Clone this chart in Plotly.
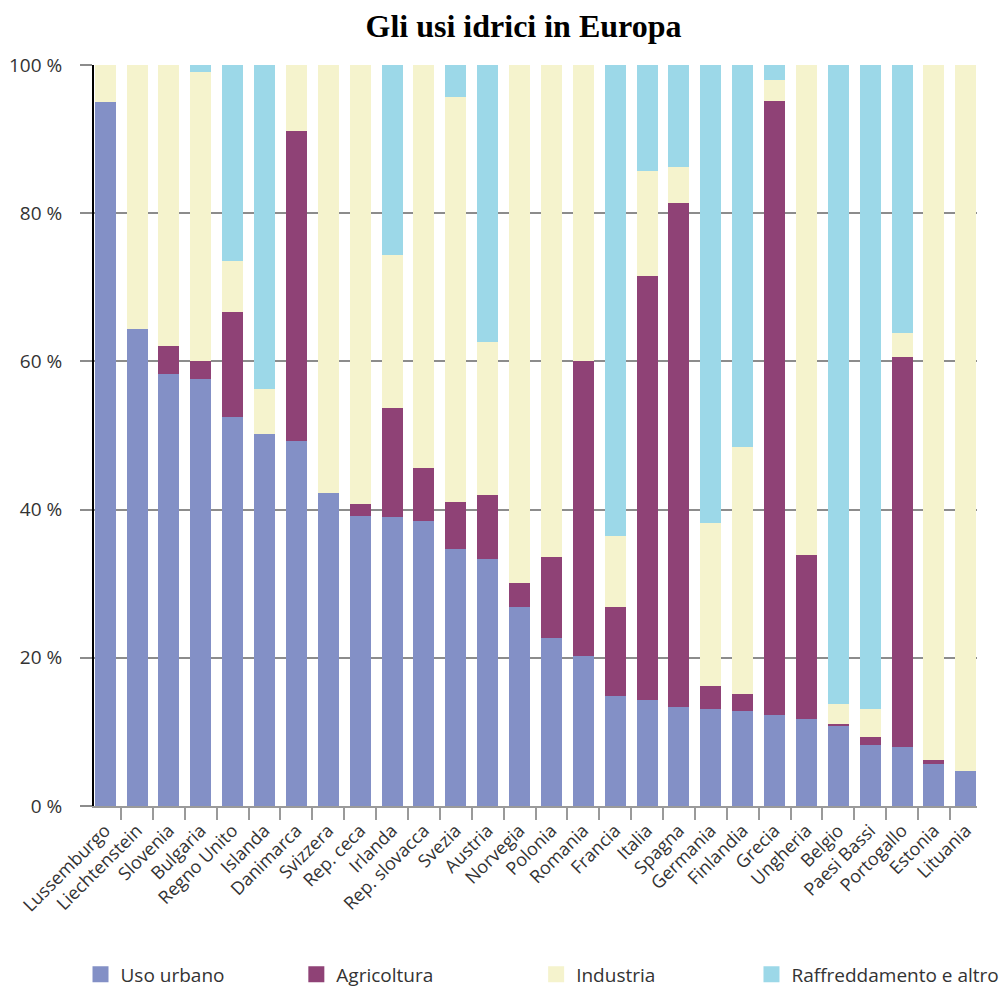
import plotly.graph_objects as go

countries = ["Lussemburgo", "Liechtenstein", "Slovenia", "Bulgaria", "Regno Unito", "Islanda",
             "Danimarca", "Svizzera", "Rep. ceca", "Irlanda", "Rep. slovacca", "Svezia", "Austria",
             "Norvegia", "Polonia", "Romania", "Francia", "Italia", "Spagna", "Germania",
             "Finlandia", "Grecia", "Ungheria", "Belgio", "Paesi Bassi", "Portogallo",
             "Estonia", "Lituania"]

uso_urbano = [95.0, 64.4, 58.3, 57.6, 52.5, 50.2, 49.2, 42.3, 39.2, 39.0, 38.5, 34.7, 33.4,
              26.8, 22.7, 20.2, 14.8, 14.3, 13.3, 13.1, 12.8, 12.3, 11.8, 10.8, 8.2, 7.9, 5.7, 4.7]
agricoltura = [0, 0, 3.8, 2.4, 14.2, 0, 41.9, 0, 1.6, 14.7, 7.1, 6.3, 8.6,
               3.3, 10.9, 39.8, 12.0, 57.2, 68.1, 3.1, 2.3, 82.8, 22.1, 0.3, 1.1, 52.7, 0.5, 0]
industria = [5.0, 35.6, 37.9, 39.0, 6.9, 6.1, 8.9, 57.7, 59.2, 20.6, 54.4, 54.7, 20.6,
             69.9, 66.4, 40.0, 9.6, 14.2, 4.9, 22.0, 33.3, 2.9, 66.1, 2.7, 3.8, 3.3, 93.8, 96.3]
raffreddamento = [0, 0, 0, 1.0, 26.4, 43.7, 0, 0, 0, 25.7, 0, 4.3, 37.4,
                  0, 0, 0, 63.6, 14.3, 13.7, 61.8, 51.6, 2.0, 0, 86.2, 86.9, 36.1, 0, 0]

y_ticks = [0, 20, 40, 60, 80, 100]
y_ticktext = ["0 %", "20 %", "40 %", "60 %", "80 %", "100 %"]

series = [
    ("Uso urbano", uso_urbano, "#8390C6", "legend"),
    ("Agricoltura", agricoltura, "#8F4276", "legend2"),
    ("Industria", industria, "#F5F3CD", "legend3"),
    ("Raffreddamento e altro", raffreddamento, "#9CD8E8", "legend4"),
]

FONT = "Open Sans"
TXT = "#333333"

fig = go.Figure()
for name, vals, col, lg in series:
    fig.add_trace(go.Bar(x=countries, y=vals, name=name, marker=dict(color=col, line=dict(width=0)),
                         showlegend=False, cliponaxis=False))
for name, vals, col, lg in series:
    fig.add_trace(go.Scatter(x=[None], y=[None], mode="markers", name=name,
                             marker=dict(symbol="square", size=16, color=col),
                             showlegend=True, legend=lg))

W, H = 1000, 987
L, R, T, B = 93.5, 22.8, 65, 180.5
pw = W - L - R
ph = H - T - B

def lx(px):
    return (px - L) / pw

ly = (H - B - 975) / ph
leg_common = dict(orientation="h", yanchor="middle", xanchor="left", y=ly,
                  font=dict(family=FONT, size=19, color=TXT), bgcolor="rgba(0,0,0,0)",
                  itemwidth=30, borderwidth=0)
sym_centers = [101, 317, 557, 772.5]
layout_legends = {}
for i, key in enumerate(["legend", "legend2", "legend3", "legend4"]):
    layout_legends[key] = dict(leg_common, x=lx(sym_centers[i] - 21))

fig.update_layout(
    width=W, height=H,
    margin=dict(l=L, r=R, t=T, b=B, autoexpand=False),
    paper_bgcolor="white", plot_bgcolor="white",
    barmode="stack", bargap=0.34,
    title=dict(text="<b>Gli usi idrici in Europa</b>", x=0.5235, xref="container", xanchor="center",
               y=1 - 25.7 / H, yref="container", yanchor="middle",
               font=dict(family="Liberation Serif", size=32, color="black")),
    xaxis=dict(type="category", range=[-0.35, 27.35], tickangle=-45,
               tickfont=dict(family=FONT, size=18, color=TXT),
               ticks="outside", tickson="boundaries", ticklen=12, tickwidth=2, tickcolor="#9a9a9a",
               ticklabelstandoff=5,
               showline=True, linecolor="#9a9a9a", linewidth=2, showgrid=False, zeroline=False),
    yaxis=dict(range=[0, 100], tickvals=y_ticks, ticktext=y_ticktext,
               tickfont=dict(family=FONT, size=19, color=TXT),
               ticks="outside", ticklen=12, tickwidth=2, tickcolor="#8c8c8c",
               ticklabelstandoff=14,
               showgrid=True, gridcolor="#8c8c8c", gridwidth=2,
               showline=True, linecolor="black", linewidth=2, zeroline=False),
    **layout_legends,
)

fig.write_html("out.html")
